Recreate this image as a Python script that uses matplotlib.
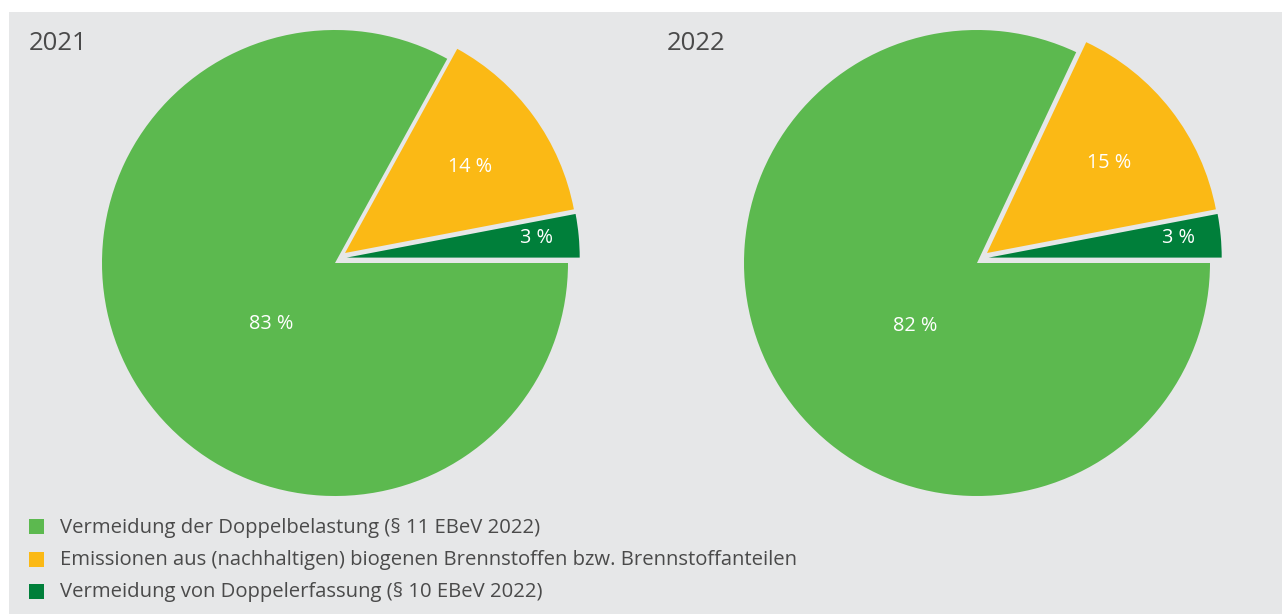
import numpy as np
import matplotlib
matplotlib.use("Agg")
import matplotlib.pyplot as plt
from matplotlib.patches import Rectangle

# Shares of the reported quantities, per year (percent)
categories = [
    "Vermeidung der Doppelbelastung (§ 11 EBeV 2022)",
    "Emissionen aus (nachhaltigen) biogenen Brennstoffen bzw. Brennstoffanteilen",
    "Vermeidung von Doppelerfassung (§ 10 EBeV 2022)",
]
years = ["2021", "2022"]
shares_2021 = [83, 14, 3]
shares_2022 = [82, 15, 3]

colors = ["#5cb94f", "#fbb915", "#007f3a"]
bg = "#e6e7e8"
text_color = "#4a4a4a"
FONT = ["Open Sans", "DejaVu Sans"]

W, H = 1282, 614
fig = plt.figure(figsize=(W / 100, H / 100), dpi=100, facecolor="white")
ax = fig.add_axes([0, 0, 1, 1])
ax.set_xlim(0, W)
ax.set_ylim(0, H)
ax.set_aspect("equal")
ax.axis("off")

# grey panel
ax.add_patch(Rectangle((9, 0), W - 9, H - 12, facecolor=bg, edgecolor="none", zorder=0))

radius = 233
centers = [(335, H - 263), (977, H - 263)]
# pulled-out offset of each slice (legend order), in pixels (dx, dy up)
slice_shift = [(0.0, 0.0), (10.0, 10.0), (11.7, 5.4)]
# label placement per slice: distance as fraction of radius, angle shift in degrees
label_dist = [0.38, 0.65, 0.82]
label_angle_shift = [13.0, -1.5, 0.5]

for year, shares, (cx, cy), tx in zip(years, [shares_2021, shares_2022], centers, [29, 667]):
    # draw counter-clockwise from 3 o'clock: small shares first
    vals = shares[::-1]
    cols = colors[::-1]
    wedges, _ = ax.pie(vals, colors=cols, startangle=0, counterclock=True,
                       center=(cx, cy), radius=radius,
                       wedgeprops=dict(linewidth=0), frame=True)
    total = float(sum(vals))
    start = 0.0
    for i, (w, v) in enumerate(zip(wedges, vals)):
        k = len(vals) - 1 - i  # index in legend order
        dx, dy = slice_shift[k]
        wx, wy = cx + dx, cy + dy
        w.set_center((wx, wy))
        span = 360.0 * v / total
        mid = start + span / 2
        start += span
        ang = np.deg2rad(mid + label_angle_shift[k])
        d = label_dist[k] * radius
        ax.text(wx + d * np.cos(ang), wy + d * np.sin(ang), f"{v} %",
                color="white", fontsize=14.3, family=FONT,
                ha="center", va="center", zorder=5)
    ax.text(tx, H - 44, year, color=text_color, fontsize=18.5, family=FONT,
            ha="left", va="center")

ax.set_xlim(0, W)
ax.set_ylim(0, H)
ax.axis("off")

# legend
for i, (lab, col) in enumerate(zip(categories, colors)):
    y = H - (526.5 + 32.5 * i)
    ax.add_patch(Rectangle((29, y - 7.5), 15, 15, facecolor=col, edgecolor="none", zorder=3))
    ax.text(60, y - 1, lab, color=text_color, fontsize=14.6, family=FONT,
            ha="left", va="center")

fig.savefig("out.png", dpi=100, facecolor="white")
